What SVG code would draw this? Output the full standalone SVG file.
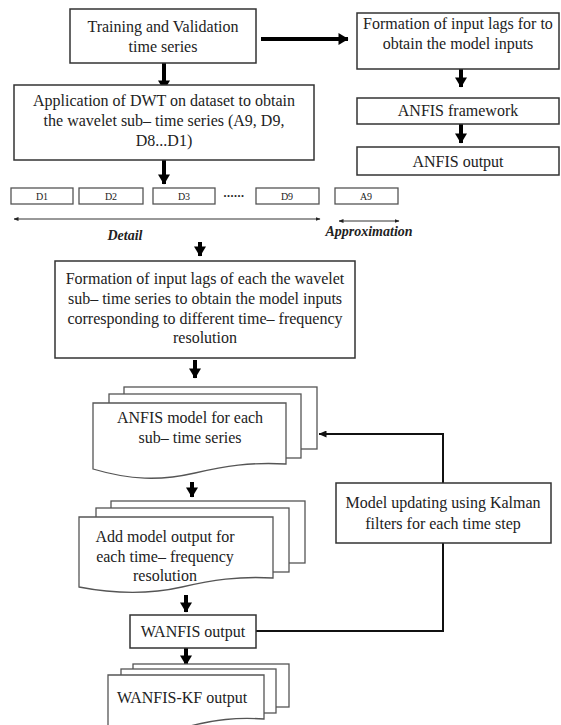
<svg xmlns="http://www.w3.org/2000/svg" width="561" height="725" viewBox="0 0 561 725">
<style>
  .box { fill: #fff; stroke: #333; stroke-width: 1.5; }
  .sbox { fill: #fff; stroke: #555; stroke-width: 1.3; }
  .t { font-family: "Liberation Serif", "Times New Roman", serif; font-size: 16px; fill: #222; text-anchor: middle; }
  .ts { font-family: "Liberation Serif", "Times New Roman", serif; font-size: 10px; fill: #222; text-anchor: middle; }
  .tb { font-family: "Liberation Serif", "Times New Roman", serif; font-size: 14px; font-weight: bold; font-style: italic; fill: #222; text-anchor: middle; }
  .big { stroke: #000; stroke-width: 4; fill: none; }
  .thin { stroke: #111; stroke-width: 2; fill: none; }
  .hair { stroke: #333; stroke-width: 1; fill: none; }
</style>
<defs>
  <marker id="ah" markerUnits="userSpaceOnUse" markerWidth="13" markerHeight="12" viewBox="0 0 10 12" refX="9.5" refY="6" orient="auto">
    <path d="M0,0 L10,6 L0,12 z" fill="#000"/>
  </marker>
  <marker id="ahs" markerUnits="userSpaceOnUse" markerWidth="8" markerHeight="7" viewBox="0 0 8 7" refX="7.5" refY="3.5" orient="auto">
    <path d="M0,0 L8,3.5 L0,7 z" fill="#111"/>
  </marker>
  <marker id="dot" markerUnits="userSpaceOnUse" markerWidth="5" markerHeight="4" viewBox="0 0 5 4" refX="4.5" refY="2" orient="auto-start-reverse">
    <path d="M0,0 L5,2 L0,4 z" fill="#222"/>
  </marker>
</defs>

<g id="connectors">
  <line class="big" x1="261" y1="39" x2="348" y2="39" marker-end="url(#ah)"/>
  <line class="big" x1="164" y1="63" x2="164" y2="90" marker-end="url(#ah)"/>
  <line class="big" x1="461" y1="69" x2="461" y2="87" marker-end="url(#ah)"/>
  <line class="big" x1="461" y1="124" x2="461" y2="143" marker-end="url(#ah)"/>
  <line class="big" x1="164" y1="160" x2="164" y2="184" marker-end="url(#ah)"/>
  <line class="big" x1="200" y1="242" x2="200" y2="256" marker-end="url(#ah)"/>
  <line class="big" x1="195" y1="360" x2="195" y2="378" marker-end="url(#ah)"/>
  <line class="big" x1="192" y1="482" x2="192" y2="497" marker-end="url(#ah)"/>
  <line class="big" x1="186" y1="595" x2="186" y2="612" marker-end="url(#ah)"/>
  <line class="big" x1="186" y1="648" x2="186" y2="665" marker-end="url(#ah)"/>
  <polyline class="thin" points="443,483 443,434 319,434" marker-end="url(#ahs)"/>
  <polyline class="thin" points="256,631 443,631 443,543"/>
  <line class="hair" x1="14" y1="219" x2="320" y2="219" marker-start="url(#dot)" marker-end="url(#dot)"/>
  <line class="hair" x1="339" y1="221" x2="399" y2="221" marker-start="url(#dot)" marker-end="url(#dot)"/>
</g>

<g id="n-train">
  <rect class="box" x="70" y="9" width="186" height="54"/>
  <text class="t" x="163" y="32">Training and Validation</text>
  <text class="t" x="163" y="52">time series</text>
</g>

<g id="n-lags">
  <rect class="box" x="357" y="13" width="202" height="56"/>
  <text class="t" x="458" y="29">Formation of input lags for to</text>
  <text class="t" x="458" y="49">obtain the model inputs</text>
</g>

<g id="n-anfis-fw">
  <rect class="box" x="357" y="98" width="202" height="26"/>
  <text class="t" x="458" y="116">ANFIS framework</text>
</g>

<g id="n-anfis-out">
  <rect class="box" x="357" y="147" width="202" height="28"/>
  <text class="t" x="458" y="167">ANFIS output</text>
</g>

<g id="n-dwt">
  <rect class="box" x="14" y="85" width="300" height="75"/>
  <text class="t" x="164" y="106">Application of DWT on dataset to obtain</text>
  <text class="t" x="164" y="126">the wavelet sub– time series (A9, D9,</text>
  <text class="t" x="164" y="146">D8...D1)</text>
</g>

<g id="n-d1">
  <rect class="sbox" x="11" y="188" width="62" height="16"/>
  <text class="ts" x="42" y="200">D1</text>
</g>
<g id="n-d2">
  <rect class="sbox" x="79" y="188" width="64" height="16"/>
  <text class="ts" x="111" y="200">D2</text>
</g>
<g id="n-d3">
  <rect class="sbox" x="153" y="188" width="62" height="16"/>
  <text class="ts" x="184" y="200">D3</text>
</g>
<g id="n-dots">
  <text class="ts" x="234" y="197" style="font-size:12px;font-weight:bold;letter-spacing:0.5px">......</text>
</g>
<g id="n-d9">
  <rect class="sbox" x="256" y="188" width="63" height="16"/>
  <text class="ts" x="287" y="200">D9</text>
</g>
<g id="n-a9">
  <rect class="sbox" x="335" y="188" width="63" height="16"/>
  <text class="ts" x="366" y="200">A9</text>
</g>

<g id="n-detail-label">
  <text class="tb" x="125" y="240">Detail</text>
</g>
<g id="n-approx-label">
  <text class="tb" x="369" y="236">Approximation</text>
</g>

<g id="n-lags-wavelet">
  <rect class="box" x="55" y="261" width="300" height="97"/>
  <text class="t" x="205" y="284">Formation of input lags of each the wavelet</text>
  <text class="t" x="205" y="304">sub– time series to obtain the model inputs</text>
  <text class="t" x="205" y="324">corresponding to different time– frequency</text>
  <text class="t" x="205" y="343">resolution</text>
</g>

<g id="n-anfis-model">
  <rect class="sbox" x="124" y="387" width="193" height="62"/>
  <rect class="sbox" x="109" y="394" width="192" height="64"/>
  <path class="sbox" d="M93,403 L286,403 L286,464 C250,462 225,466 195,473 C160,481 130,480 93,469 Z"/>
  <text class="t" x="190" y="423">ANFIS model for each</text>
  <text class="t" x="190" y="443">sub– time series</text>
</g>

<g id="n-kalman">
  <rect class="box" x="336" y="483" width="215" height="60"/>
  <text class="t" x="443" y="508">Model updating using Kalman</text>
  <text class="t" x="443" y="529">filters for each time step</text>
</g>

<g id="n-add">
  <rect class="sbox" x="111" y="501" width="194" height="62"/>
  <rect class="sbox" x="96" y="508" width="193" height="64"/>
  <path class="sbox" d="M79,517 L273,517 L273,578 C238,576 212,580 182,587 C147,595 115,594 79,587 Z"/>
  <text class="t" x="165" y="542">Add model output for</text>
  <text class="t" x="165" y="562">each time– frequency</text>
  <text class="t" x="165" y="581">resolution</text>
</g>

<g id="n-wanfis">
  <rect class="box" x="130" y="615" width="126" height="33"/>
  <text class="t" x="193" y="637">WANFIS output</text>
</g>

<g id="n-wanfis-kf">
  <rect class="sbox" x="133" y="664" width="156" height="43"/>
  <rect class="sbox" x="121" y="669" width="155" height="44"/>
  <path class="sbox" d="M108,675 L264,675 L264,719 C235,717 215,720 190,726 C160,733 130,734 108,732 Z"/>
  <text class="t" x="182" y="703">WANFIS-KF output</text>
</g>
</svg>
